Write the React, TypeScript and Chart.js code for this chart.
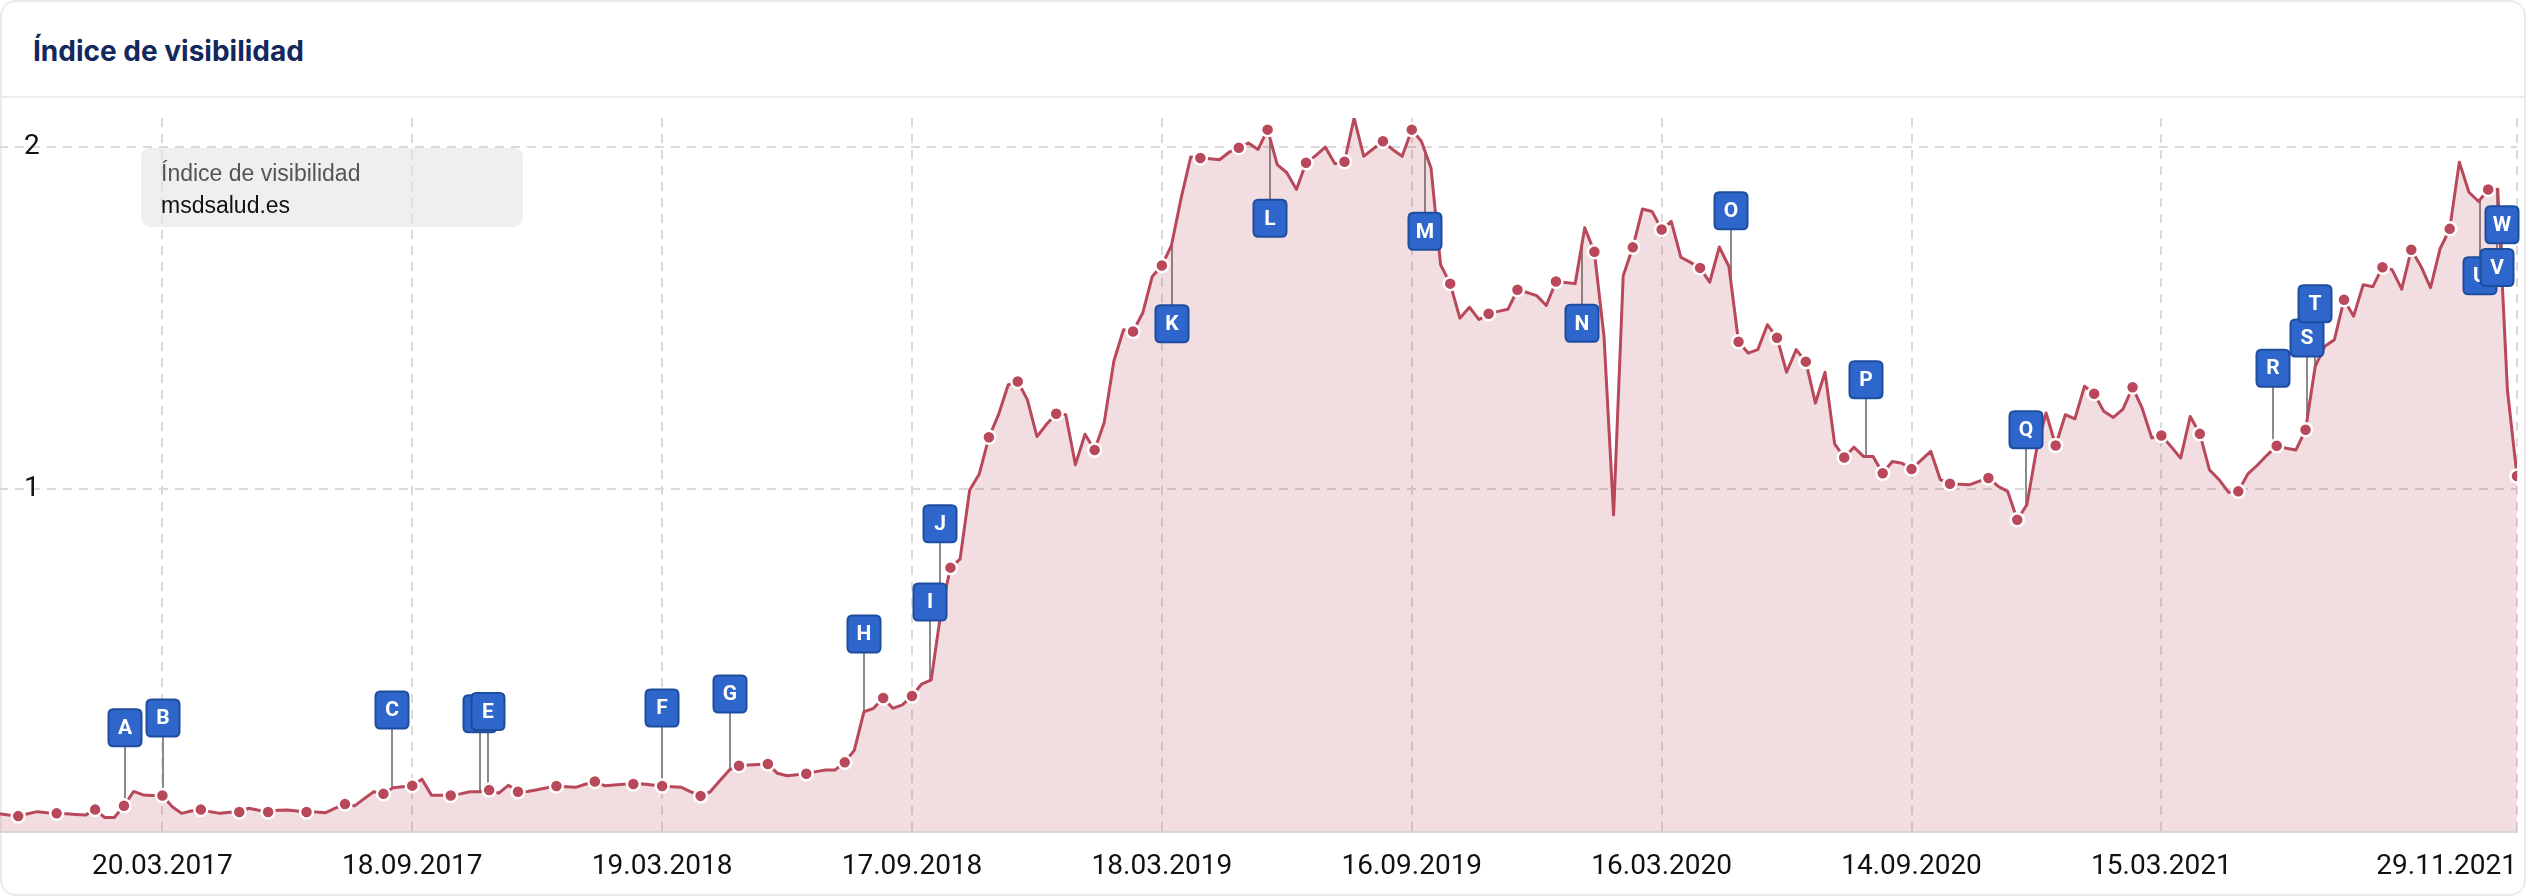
import React, { useEffect, useRef } from 'react';
import { Chart, registerables } from 'chart.js';

Chart.register(...registerables);

// Weekly visibility index, first week = 21.11.2016, last week = 29.11.2021
const weeklyValues: number[] = [
  0.052, 0.048, 0.045, 0.052, 0.058, 0.055, 0.053, 0.052, 0.050, 0.048,
  0.064, 0.041, 0.041, 0.075, 0.117, 0.107, 0.105, 0.105, 0.073, 0.053,
  0.060, 0.064, 0.058, 0.053, 0.056, 0.057, 0.068, 0.062, 0.057, 0.062,
  0.063, 0.060, 0.057, 0.057, 0.055, 0.068, 0.080, 0.075, 0.096, 0.116,
  0.110, 0.128, 0.131, 0.134, 0.153, 0.106, 0.106, 0.105, 0.110, 0.116,
  0.116, 0.121, 0.112, 0.135, 0.116, 0.117, 0.122, 0.128, 0.133, 0.131,
  0.129, 0.138, 0.146, 0.134, 0.136, 0.138, 0.139, 0.139, 0.136, 0.133,
  0.131, 0.129, 0.116, 0.104, 0.116, 0.148, 0.180, 0.192, 0.194, 0.196,
  0.197, 0.170, 0.163, 0.166, 0.169, 0.175, 0.180, 0.180, 0.202, 0.238,
  0.350, 0.360, 0.390, 0.360, 0.370, 0.396, 0.431, 0.443, 0.640, 0.771,
  0.796, 0.998, 1.045, 1.152, 1.218, 1.305, 1.315, 1.262, 1.154, 1.190,
  1.221, 1.218, 1.072, 1.161, 1.115, 1.195, 1.374, 1.466, 1.461, 1.515,
  1.622, 1.654, 1.713, 1.851, 1.971, 1.968, 1.966, 1.963, 1.985, 1.998,
  2.012, 1.993, 2.051, 1.949, 1.925, 1.876, 1.954, 1.975, 2.000, 1.951,
  1.957, 2.085, 1.973, 1.995, 2.017, 1.993, 1.973, 2.051, 2.017, 1.939,
  1.656, 1.601, 1.500, 1.532, 1.496, 1.513, 1.520, 1.526, 1.583, 1.575,
  1.566, 1.537, 1.607, 1.604, 1.601, 1.764, 1.694, 1.447, 0.925, 1.624,
  1.707, 1.819, 1.812, 1.759, 1.783, 1.678, 1.663, 1.647, 1.605, 1.708,
  1.651, 1.431, 1.398, 1.408, 1.481, 1.443, 1.342, 1.408, 1.373, 1.252,
  1.342, 1.133, 1.093, 1.123, 1.096, 1.096, 1.047, 1.081, 1.076, 1.059,
  1.085, 1.111, 1.028, 1.016, 1.015, 1.013, 1.023, 1.033, 1.009, 0.994,
  0.911, 0.955, 1.115, 1.223, 1.128, 1.218, 1.206, 1.301, 1.279, 1.228,
  1.210, 1.234, 1.298, 1.237, 1.150, 1.157, 1.125, 1.091, 1.213, 1.162,
  1.057, 1.028, 0.991, 0.994, 1.045, 1.071, 1.100, 1.127, 1.120, 1.115,
  1.174, 1.359, 1.418, 1.437, 1.554, 1.506, 1.598, 1.592, 1.649, 1.642,
  1.585, 1.700, 1.652, 1.589, 1.703, 1.761, 1.956, 1.868, 1.841, 1.876,
  1.877, 1.291, 1.039,
];

// Weeks that carry a visible dot
const markerWeeks: number[] = [
  2, 6, 10, 13, 17, 21, 25, 28, 32, 36, 40, 43, 47, 51, 54, 58, 62, 66, 69, 73,
  77, 80, 84, 88, 92, 95, 99, 103, 106, 110, 114, 118, 121, 125, 129, 132, 136,
  140, 144, 147, 151, 155, 158, 162, 166, 170, 173, 177, 181, 185, 188, 192, 196,
  199, 203, 207, 210, 214, 218, 222, 225, 229, 233, 237, 240, 244, 248, 251, 255,
  259, 262,
];

const xTickWeeks: number[] = [17, 43, 69, 95, 121, 147, 173, 199, 225, 262];
const xTickLabels: string[] = [
  '20.03.2017', '18.09.2017', '19.03.2018', '17.09.2018', '18.03.2019',
  '16.09.2019', '16.03.2020', '14.09.2020', '15.03.2021', '29.11.2021',
];
const yTickValues: number[] = [1, 2];

// Event annotations
const eventLetters: string[] = [
  'A', 'B', 'C', 'D', 'E', 'F', 'G', 'H', 'I', 'J', 'K', 'L',
  'M', 'N', 'O', 'P', 'Q', 'R', 'S', 'T', 'U', 'V', 'W',
];
const eventWeeks: number[] = [
  13.1, 17.05, 40.9, 50.1, 50.9, 69.0, 76.1, 90.0, 96.9, 97.9, 122.1, 132.3,
  148.4, 164.7, 180.2, 194.3, 210.9, 236.6, 240.2, 241.0, 258.1, 259.9, 260.4,
];
const eventBoxLevels: number[] = [
  0.303, 0.332, 0.355, 0.344, 0.351, 0.361, 0.402, 0.577, 0.671, 0.899, 1.484, 1.792,
  1.754, 1.485, 1.814, 1.320, 1.174, 1.354, 1.442, 1.542, 1.624, 1.648, 1.773,
];

const SERIES_NAME = 'Índice de visibilidad';
const DOMAIN = 'msdsalud.es';

const LINE_COLOR = '#b8485a';
const FILL_COLOR = 'rgba(184,72,90,0.18)';
const GRID_COLOR = '#dadada';
const BOX_FILL = '#2e66cc';
const BOX_BORDER = '#1f4d9e';
const BOX_W = 33;
const BOX_H = 37;

function valueAt(w: number): number {
  const a = Math.floor(w);
  const b = Math.min(a + 1, weeklyValues.length - 1);
  const t = w - a;
  return weeklyValues[a] * (1 - t) + weeklyValues[b] * t;
}

function roundRect(ctx: CanvasRenderingContext2D, x: number, y: number, w: number, h: number, r: number) {
  ctx.beginPath();
  ctx.moveTo(x + r, y);
  ctx.lineTo(x + w - r, y);
  ctx.quadraticCurveTo(x + w, y, x + w, y + r);
  ctx.lineTo(x + w, y + h - r);
  ctx.quadraticCurveTo(x + w, y + h, x + w - r, y + h);
  ctx.lineTo(x + r, y + h);
  ctx.quadraticCurveTo(x, y + h, x, y + h - r);
  ctx.lineTo(x, y + r);
  ctx.quadraticCurveTo(x, y, x + r, y);
  ctx.closePath();
}

const eventPlugin = {
  id: 'eventMarkers',
  beforeDatasetsDraw(chart: any) {
    const ctx: CanvasRenderingContext2D = chart.ctx;
    const xs = chart.scales.x;
    const ys = chart.scales.y;
    ctx.save();
    ctx.strokeStyle = '#8a8a8a';
    ctx.lineWidth = 2;
    eventWeeks.forEach((w, i) => {
      const x = Math.round(xs.getPixelForValue(w));
      const yp = ys.getPixelForValue(valueAt(w));
      const yb = ys.getPixelForValue(eventBoxLevels[i]);
      const yEdge = yb < yp ? yb + BOX_H / 2 : yb - BOX_H / 2;
      ctx.beginPath();
      ctx.moveTo(x, yEdge);
      ctx.lineTo(x, yp);
      ctx.stroke();
    });
    ctx.restore();
  },
  afterDatasetsDraw(chart: any) {
    const ctx: CanvasRenderingContext2D = chart.ctx;
    const xs = chart.scales.x;
    const ys = chart.scales.y;
    ctx.save();
    eventWeeks.forEach((w, i) => {
      const x = Math.round(xs.getPixelForValue(w));
      const yb = ys.getPixelForValue(eventBoxLevels[i]);
      roundRect(ctx, x - BOX_W / 2, yb - BOX_H / 2, BOX_W, BOX_H, 5);
      ctx.fillStyle = BOX_FILL;
      ctx.fill();
      ctx.lineWidth = 2;
      ctx.strokeStyle = BOX_BORDER;
      ctx.stroke();
      ctx.fillStyle = '#ffffff';
      ctx.font = 'bold 21px Roboto';
      ctx.textAlign = 'center';
      ctx.textBaseline = 'middle';
      ctx.fillText(eventLetters[i], x, yb + 1);
    });
    ctx.restore();
  },
};

export default function App() {
  const canvasRef = useRef<HTMLCanvasElement | null>(null);

  useEffect(() => {
    const canvas = canvasRef.current;
    if (!canvas) return;
    const markerSet = new Set(markerWeeks);
    const chart = new Chart(canvas, {
      type: 'line',
      data: {
        datasets: [
          {
            label: SERIES_NAME,
            data: weeklyValues.map((v, i) => ({ x: i, y: v })),
            borderColor: LINE_COLOR,
            borderWidth: 3,
            backgroundColor: FILL_COLOR,
            fill: 'origin',
            tension: 0,
            borderJoinStyle: 'round',
            pointRadius: (c: any) => (markerSet.has(c.dataIndex) ? 6.5 : 0),
            pointHoverRadius: 0,
            pointBackgroundColor: LINE_COLOR,
            pointBorderColor: '#ffffff',
            pointBorderWidth: 2.5,
          } as any,
        ],
      },
      options: {
        responsive: false,
        animation: false,
        events: [],
        layout: { padding: { left: 0, right: 8, top: 20, bottom: 0 } },
        plugins: {
          legend: { display: false },
          tooltip: { enabled: false },
        },
        scales: {
          x: {
            type: 'linear',
            min: 0,
            max: weeklyValues.length - 1,
            afterBuildTicks: (s: any) => {
              s.ticks = [0, ...xTickWeeks].map((v) => ({ value: v }));
            },
            afterFit: (s: any) => {
              s.paddingLeft = 0;
              s.paddingRight = 0;
              s.height = 64.5;
            },
            ticks: {
              autoSkip: false,
              maxRotation: 0,
              minRotation: 0,
              align: 'inner',
              padding: 19,
              color: '#111111',
              font: { family: 'Roboto', size: 28 },
              callback: (v: any) => {
                const k = xTickWeeks.indexOf(Number(v));
                return k >= 0 ? xTickLabels[k] : '';
              },
            },
            grid: {
              color: (c: any) => (c.tick && c.tick.value === 0 ? 'rgba(0,0,0,0)' : GRID_COLOR),
              lineWidth: 2,
              drawTicks: false,
            },
            border: { display: true, color: '#d8d8d8', width: 2, dash: [9, 7] },
          } as any,
          y: {
            min: 0,
            max: Math.max(...weeklyValues),
            afterBuildTicks: (s: any) => {
              s.ticks = yTickValues.map((v) => ({ value: v }));
            },
            afterFit: (s: any) => {
              s.paddingTop = 0;
              s.paddingBottom = 0;
              s.width = 0;
            },
            ticks: {
              mirror: true,
              padding: 25,
              color: '#111111',
              font: { family: 'Roboto', size: 28 },
              callback: (v: any) => String(v),
            },
            grid: { color: GRID_COLOR, lineWidth: 2, drawTicks: false },
            border: { display: false, dash: [9, 7] },
          } as any,
        },
      },
      plugins: [eventPlugin],
    });
    return () => chart.destroy();
  }, []);

  return (
    <div
      style={{
        position: 'fixed',
        left: 0,
        top: 0,
        width: 2526,
        height: 896,
        background: '#ffffff',
        overflow: 'hidden',
      }}
    >
      <div
        style={{
          position: 'absolute',
          left: 0,
          top: 0,
          width: 2526,
          height: 896,
          boxSizing: 'border-box',
          border: '2px solid #ebebeb',
          borderRadius: 16,
        }}
      />
      <div
        style={{
          position: 'absolute',
          left: 33,
          top: 32,
          fontFamily: 'Inter, Roboto, sans-serif',
          fontWeight: 700,
          fontSize: 28,
          lineHeight: '38px',
          color: '#13285c',
          whiteSpace: 'nowrap',
        }}
      >
        {SERIES_NAME}
      </div>
      <div style={{ position: 'absolute', left: 0, top: 96, width: 2526, height: 2, background: '#ececec' }} />
      <div style={{ position: 'absolute', left: -10, top: 98, width: 2536, height: 798 }}>
        <canvas ref={canvasRef} width={2536} height={798} style={{ display: 'block' }} />
      </div>
      <div
        style={{
          position: 'absolute',
          left: 141,
          top: 148,
          width: 382,
          height: 79,
          borderRadius: 9,
          background: 'rgba(226,226,226,0.55)',
          fontFamily: '"Liberation Sans", Arial, sans-serif',
          fontSize: 23,
          boxSizing: 'border-box',
          paddingLeft: 20,
          paddingTop: 9,
        }}
      >
        <div style={{ color: '#555555', lineHeight: '32px', whiteSpace: 'nowrap' }}>{SERIES_NAME}</div>
        <div style={{ color: '#111111', lineHeight: '32px', whiteSpace: 'nowrap' }}>{DOMAIN}</div>
      </div>
    </div>
  );
}
